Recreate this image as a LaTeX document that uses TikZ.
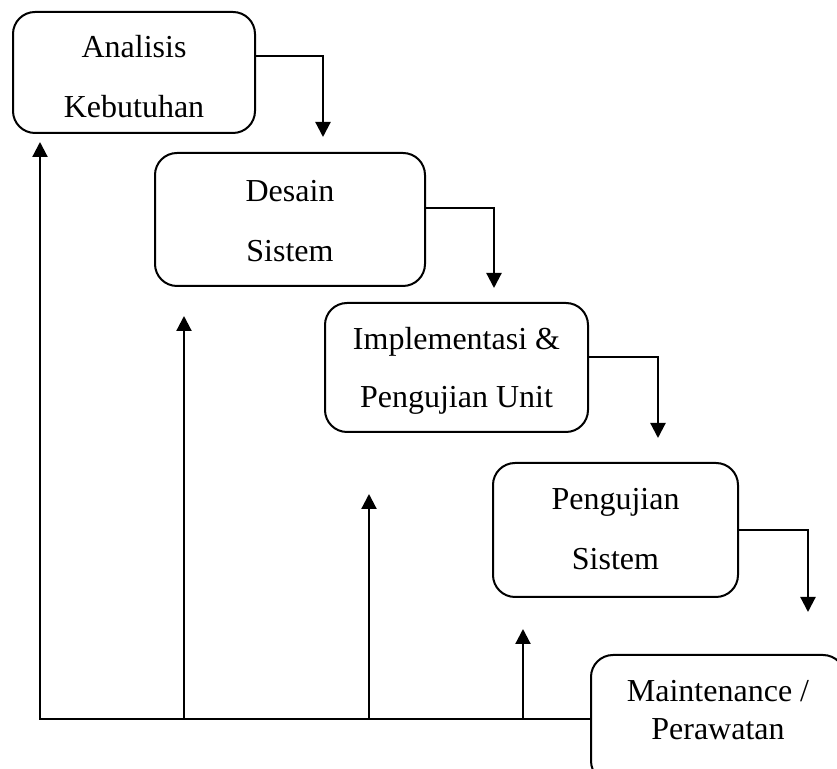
\documentclass[tikz,border=0pt]{standalone}
\usepackage{fontspec}
\setmainfont{Liberation Serif}
\usepackage{tikz}
\usepackage{xcolor}
\usetikzlibrary{arrows.meta, positioning, calc}
\definecolor{PhaseBlack}{HTML}{000000}
\definecolor{PhaseWhite}{HTML}{FFFFFF}
\tikzset{
    stage/.style={
        draw=PhaseBlack,
        line width=1pt,
        rounded corners=11pt,
        fill=PhaseWhite,
        text=PhaseBlack,
        font=\fontsize{16pt}{30pt}\selectfont,
        align=center,
        inner sep=0pt,
        text height=42.5pt,
        text depth=0pt
    },
    flow/.style={
        -{Triangle[width=7.5pt,length=7.5pt]},
        line width=1.1pt,
        PhaseBlack
    }
}

\begin{document}
\begin{tikzpicture}[x=0.5pt, y=-0.5pt]
        \useasboundingbox (0,0) rectangle (837,769);
        \clip (0,0) rectangle (837,769);

        % Phases
        \node[stage, minimum width=121pt, minimum height=60.5pt, text height=45.5pt] (analisis) at (134,72.5) {Analisis\\Kebutuhan};
        \node[stage, minimum width=135pt, minimum height=66.5pt] (desain) at (290,219.5) {Desain\\Sistem};
        \node[stage, minimum width=131.5pt, minimum height=64.5pt, text height=40.5pt, font=\fontsize{16pt}{29pt}\selectfont] (implementasi) at (456.5,367.5) {Implementasi \&\\Pengujian Unit};
        \node[stage, minimum width=122.5pt, minimum height=67pt, text height=40pt] (pengujian) at (615.5,530) {Pengujian\\Sistem};
        \node[stage, minimum width=127pt, minimum height=64pt, text height=21pt, font=\fontsize{16pt}{19pt}\selectfont] (maintenance) at (718,719) {Maintenance /\\Perawatan};

        % Down arrows
        \coordinate (d1) at (323,137);
        \coordinate (d2) at (494,288);
        \coordinate (d3) at (658,438);
        \coordinate (d4) at (808,612);
        \draw[flow] ([yshift=8.25pt]analisis.east) -| (d1);
        \draw[flow] ([yshift=5.75pt]desain.east) -| (d2);
        \draw[flow] ([yshift=5.25pt]implementasi.east) -| (d3);
        \draw[flow] (pengujian.east) -| (d4);

        % Feedback
        \coordinate (u1) at (40,142);
        \coordinate (u2) at (184,316);
        \coordinate (u3) at (369,494);
        \coordinate (u4) at (523,629);
        \draw[flow] (maintenance.west) -| (u1);
        \draw[flow] (u2 |- maintenance.west) -- (u2);
        \draw[flow] (u3 |- maintenance.west) -- (u3);
        \draw[flow] (u4 |- maintenance.west) -- (u4);
    \end{tikzpicture}
\end{document}
